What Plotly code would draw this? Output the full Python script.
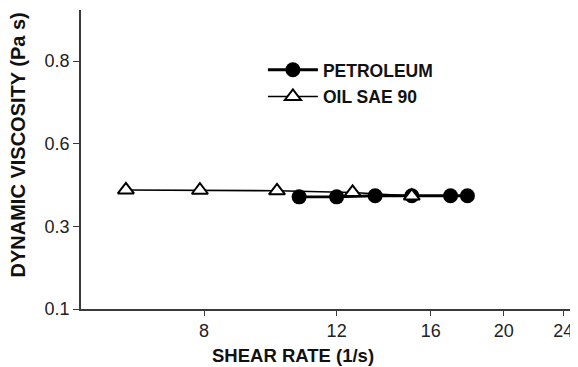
import numpy as np
import plotly.graph_objects as go

# ---- data ----
shear_petroleum = [10.7, 12.0, 13.5, 15.1, 17.0, 17.9]
visc_petroleum = [0.407, 0.407, 0.411, 0.411, 0.411, 0.411]

shear_oil = [6.3, 7.9, 10.0, 12.6, 15.1]
visc_oil = [0.432, 0.431, 0.429, 0.423, 0.410]

x_tick_vals = [8, 12, 16, 20, 24]
y_tick_labels = ["0.1", "0.3", "0.6", "0.8"]

# y axis of the original has equally spaced, non-linear labels
y_label_vals = [float(v) for v in y_tick_labels]
y_label_pos = list(range(len(y_tick_labels)))


def ypos(vals):
    return np.interp(vals, y_label_vals, y_label_pos)


FONT = "Liberation Sans, Arial, sans-serif"
AXC = "#3a3a3a"

fig = go.Figure()
fig.add_trace(go.Scatter(
    x=shear_petroleum, y=ypos(visc_petroleum), name="PETROLEUM",
    mode="lines+markers", legendgroup="a",
    line=dict(color="black", width=2.8),
    marker=dict(symbol="circle", size=15, color="black"),
))
fig.add_trace(go.Scatter(
    x=shear_oil, y=ypos(visc_oil), name="OIL SAE 90",
    mode="lines+markers", legendgroup="b",
    line=dict(color="black", width=1.6),
    marker=dict(symbol="triangle-up", size=14, color="white",
                line=dict(color="black", width=2)),
))

# page body has an 8px margin, so the figure is offset by 8px
fig.update_layout(
    width=570, height=359,
    margin=dict(l=73, r=0, t=2, b=58),
    paper_bgcolor="white", plot_bgcolor="white",
    font=dict(family=FONT, color="#222", size=18),
    showlegend=True,
    legend=dict(x=0.366, y=0.86, xanchor="left", yanchor="top",
                bgcolor="rgba(0,0,0,0)", itemwidth=50, tracegroupgap=1,
                font=dict(family=FONT, size=17.5, weight="bold", color="#111")),
    xaxis=dict(type="log", range=[0.7397, 1.3997],
               tickvals=x_tick_vals, ticktext=[str(v) for v in x_tick_vals],
               showgrid=False, zeroline=False, showline=True,
               linecolor=AXC, linewidth=1.5,
               ticks="outside", ticklen=5, tickwidth=1.2, tickcolor=AXC,
               tickfont=dict(size=18, color="#222")),
    yaxis=dict(range=[0, 3.617],
               tickvals=y_label_pos, ticktext=y_tick_labels,
               showgrid=False, zeroline=False, showline=True,
               linecolor=AXC, linewidth=1.5,
               ticks="outside", ticklen=6, tickwidth=1.2, tickcolor=AXC,
               tickfont=dict(size=18, color="#222")),
    annotations=[
        dict(text="SHEAR RATE (1/s)", xref="paper", yref="paper",
             x=0.4266, y=-0.156, xanchor="center", yanchor="middle",
             showarrow=False,
             font=dict(family=FONT, size=18.5, weight="bold", color="#111")),
        dict(text="DYNAMIC VISCOSITY (Pa s)", xref="paper", yref="paper",
             x=-0.1258, y=0.5485, xanchor="center", yanchor="middle",
             textangle=-90, showarrow=False,
             font=dict(family=FONT, size=20, weight="bold", color="#111")),
    ],
)

fig.write_html("out.html")
